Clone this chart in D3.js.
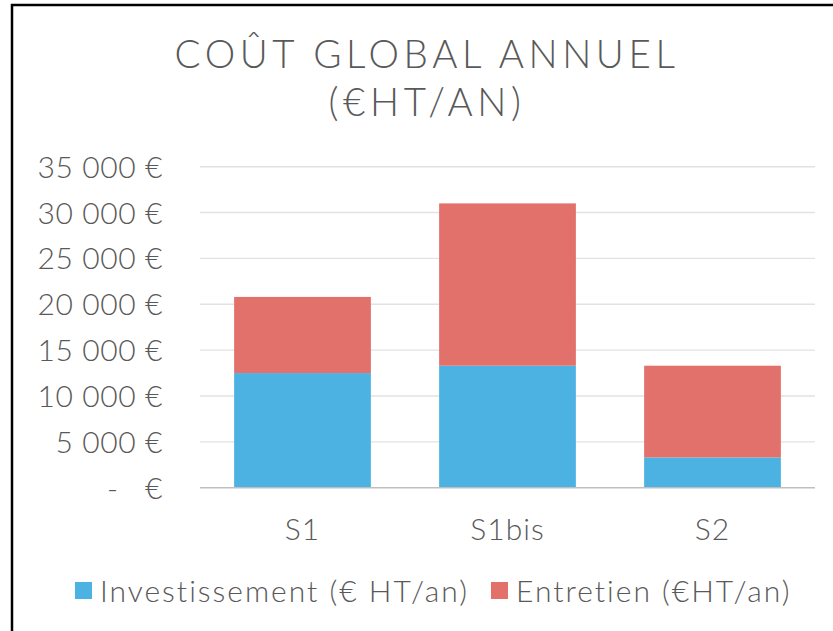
<!DOCTYPE html>
<html>
<head>
<meta charset="utf-8">
<title>Coût global annuel</title>
<script src="https://d3js.org/d3.v7.min.js"></script>
<style>
  body { margin: 0; background: #fff; }
  svg { display: block; font-family: "Lato", "Open Sans", sans-serif; }
  text { fill: #595959; font-weight: 300; }
</style>
</head>
<body>
<script>
// data
var categories = ["S1", "S1bis", "S2"];
var investissement = [12500, 13300, 3300];
var entretien = [8300, 17700, 10000];
var seriesNames = ["Investissement (€ HT/an)", "Entretien (€HT/an)"];
var seriesColors = ["#4BB2E2", "#E2706B"];
var yTicks = [0, 5000, 10000, 15000, 20000, 25000, 30000, 35000];

var W = 833, H = 631;
var svg = d3.select("body").append("svg")
    .attr("width", W)
    .attr("height", H);

// frame (only left and top are visible in the picture)
svg.append("rect")
    .attr("x", 12).attr("y", 5)
    .attr("width", 840).attr("height", 640)
    .attr("fill", "none")
    .attr("stroke", "#000")
    .attr("stroke-width", 2.5);

// title
svg.append("text")
    .attr("x", 427).attr("y", 68)
    .attr("text-anchor", "middle")
    .attr("font-size", 38.5)
    .attr("letter-spacing", 4.6)
    .text("COÛT GLOBAL ANNUEL");
svg.append("text")
    .attr("x", 427).attr("y", 116)
    .attr("text-anchor", "middle")
    .attr("font-size", 38.5)
    .attr("letter-spacing", 4.6)
    .text("(€HT/AN)");

var x = d3.scaleBand()
    .domain(categories)
    .range([200, 815])
    .paddingInner(0.333)
    .paddingOuter(0.1665);

var y = d3.scaleLinear()
    .domain([0, 35000])
    .range([487.7, 166.7]);

// gridlines
svg.append("g").selectAll("line")
    .data(yTicks.slice(1))
    .enter().append("line")
    .attr("x1", 200).attr("x2", 815)
    .attr("y1", function(d) { return y(d); })
    .attr("y2", function(d) { return y(d); })
    .attr("stroke", "#e2e2e2")
    .attr("stroke-width", 1.4);

// stacked bars
var rows = categories.map(function(c, i) {
  return { cat: c, inv: investissement[i], ent: entretien[i] };
});
var stack = d3.stack().keys(["inv", "ent"])(rows);

svg.append("g").selectAll("g")
    .data(stack)
    .enter().append("g")
    .attr("fill", function(d, i) { return seriesColors[i]; })
    .selectAll("rect")
    .data(function(d) { return d; })
    .enter().append("rect")
    .attr("x", function(d) { return x(d.data.cat); })
    .attr("width", x.bandwidth())
    .attr("y", function(d) { return y(d[1]); })
    .attr("height", function(d) { return y(d[0]) - y(d[1]); });

// baseline axis
svg.append("line")
    .attr("x1", 200).attr("x2", 815)
    .attr("y1", y(0)).attr("y2", y(0))
    .attr("stroke", "#bfbfbf")
    .attr("stroke-width", 1.5);

// y axis labels
var fmt = function(d) {
  if (d === 0) return "-   €";
  return d3.format(",")(d).replace(",", " ") + " €";
};
svg.append("g").selectAll("text")
    .data(yTicks)
    .enter().append("text")
    .attr("x", 163)
    .attr("y", function(d) { return y(d) + 11; })
    .attr("text-anchor", "end")
    .attr("font-size", 30)
    .attr("letter-spacing", 0.6)
    .style("white-space", "pre")
    .text(fmt);

// category labels
svg.append("g").selectAll("text")
    .data(categories)
    .enter().append("text")
    .attr("x", function(d) { return x(d) + x.bandwidth() / 2; })
    .attr("y", 540)
    .attr("text-anchor", "middle")
    .attr("font-size", 30)
    .attr("letter-spacing", 1)
    .text(function(d) { return d; });

// legend
var legendX = [75, 491];
var leg = svg.append("g").selectAll("g")
    .data(seriesNames)
    .enter().append("g")
    .attr("transform", function(d, i) { return "translate(" + legendX[i] + ",0)"; });
leg.append("rect")
    .attr("x", 0).attr("y", 582)
    .attr("width", 17).attr("height", 17)
    .attr("fill", function(d, i) { return seriesColors[i]; });
leg.append("text")
    .attr("x", 25).attr("y", 602)
    .attr("font-size", 30)
    .attr("letter-spacing", 2)
    .text(function(d) { return d; });
</script>
</body>
</html>
